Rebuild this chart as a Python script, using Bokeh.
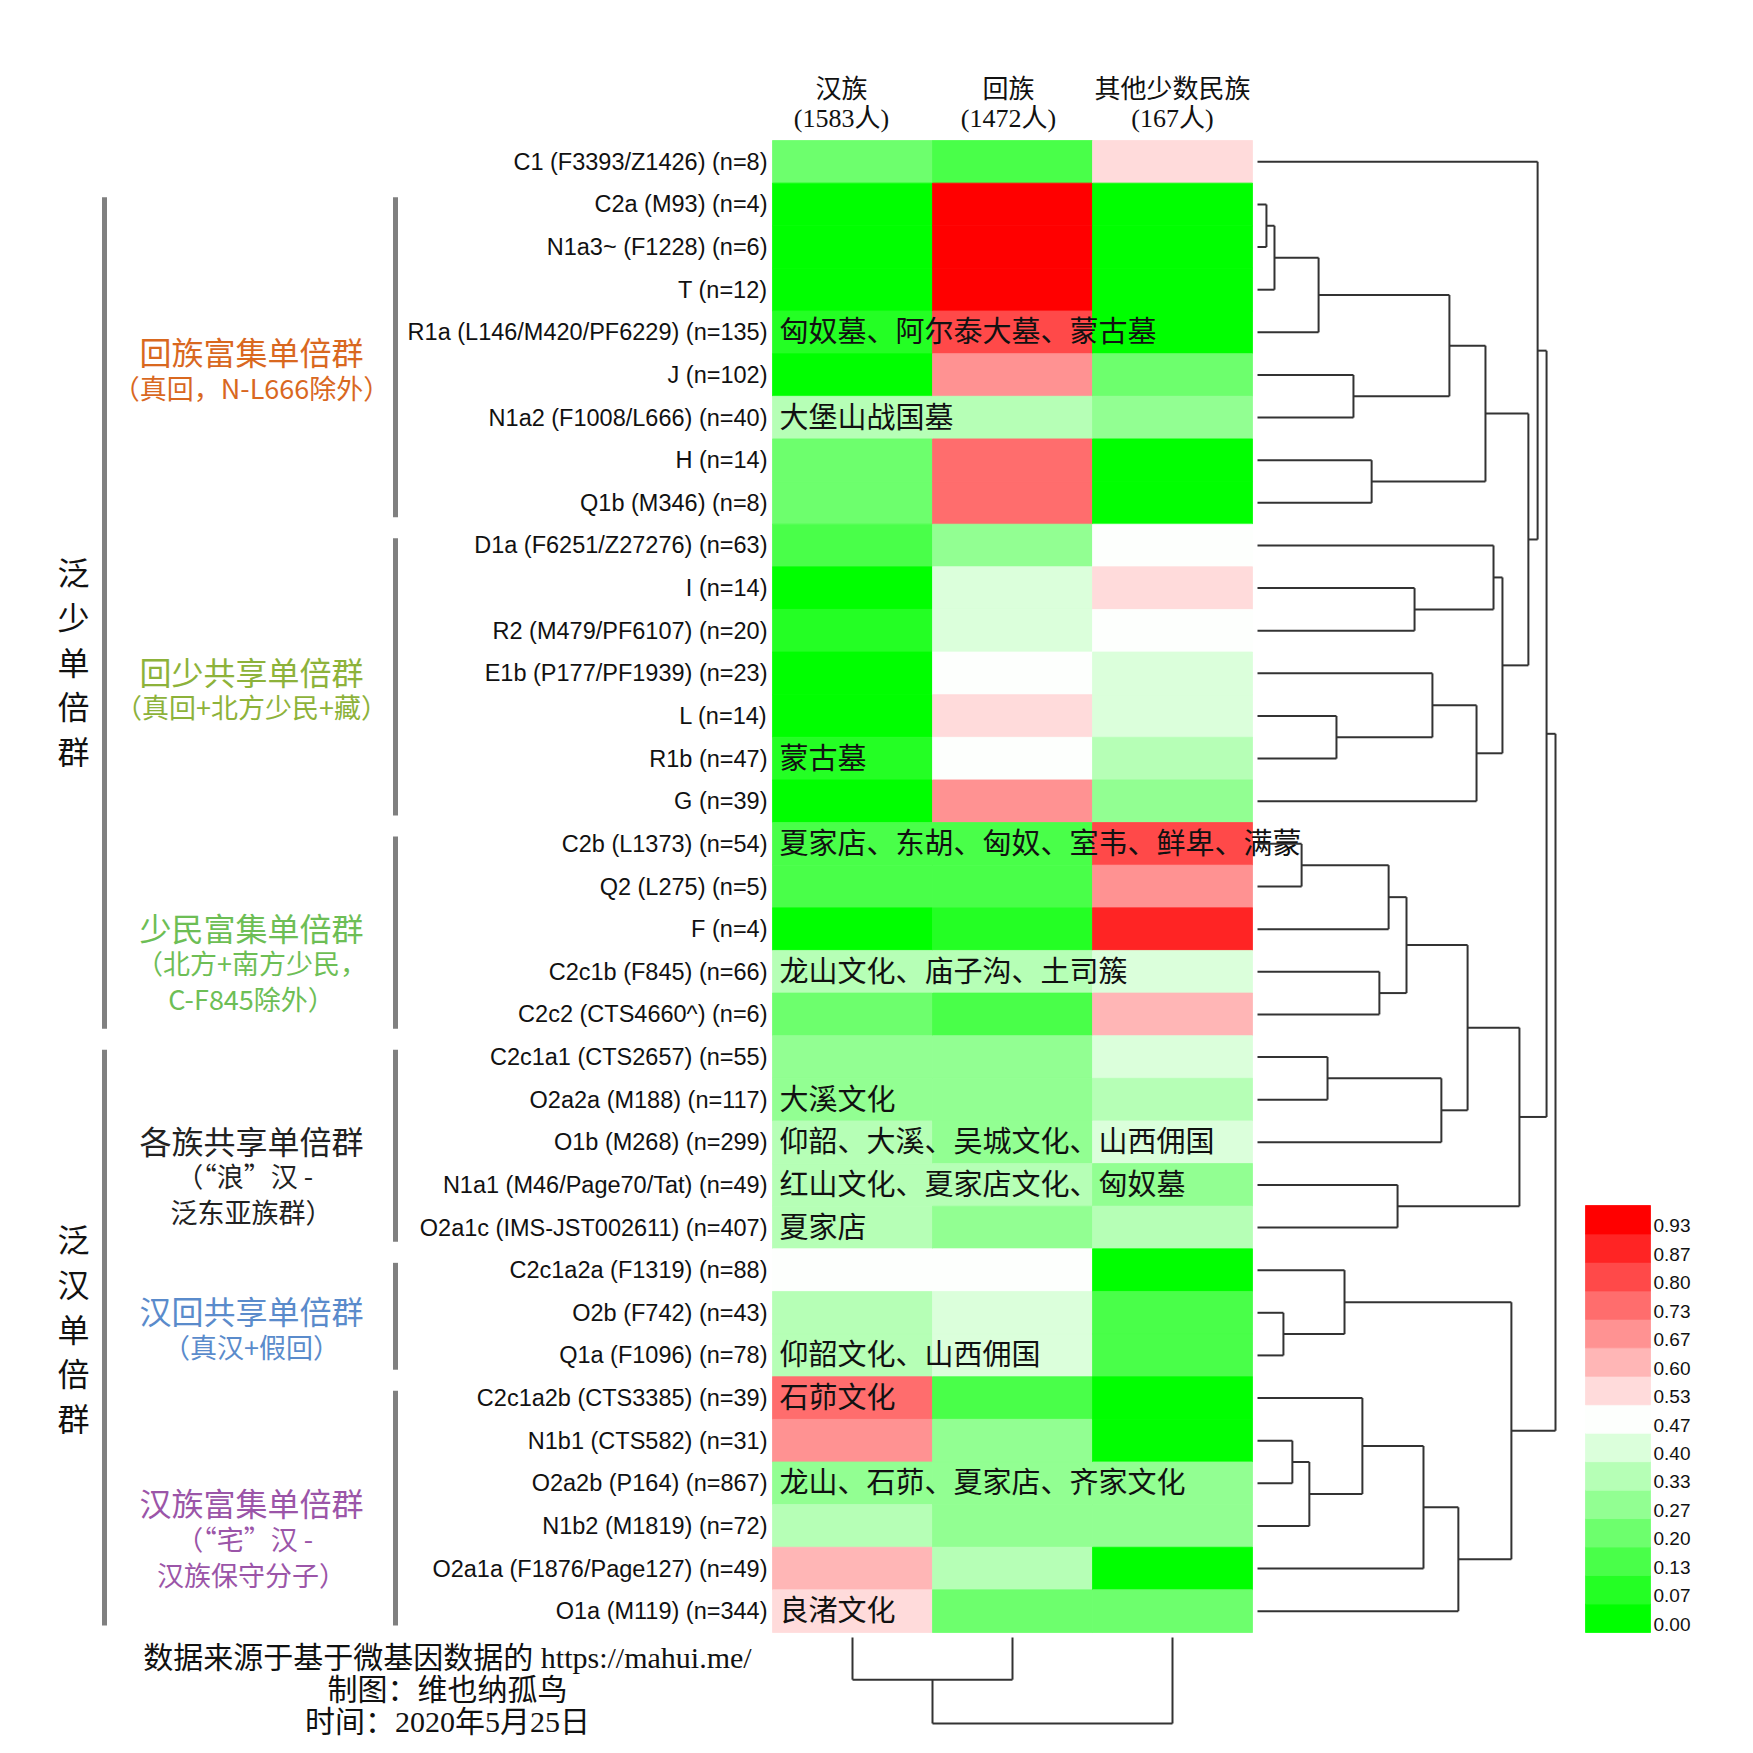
from bokeh.plotting import figure
from bokeh.models import ColumnDataSource, Range1d, LinearColorMapper
from bokeh.transform import transform
from bokeh.core.properties import value
from bokeh.embed import file_html
from bokeh.resources import INLINE

# ---------------- data ----------------
ethnic_groups = ["汉族", "回族", "其他少数民族"]
group_sizes = ["(1583人)", "(1472人)", "(167人)"]

haplogroups = [
    "C1 (F3393/Z1426) (n=8)", "C2a (M93) (n=4)", "N1a3~ (F1228) (n=6)", "T (n=12)",
    "R1a (L146/M420/PF6229) (n=135)", "J (n=102)", "N1a2 (F1008/L666) (n=40)",
    "H (n=14)", "Q1b (M346) (n=8)", "D1a (F6251/Z27276) (n=63)", "I (n=14)",
    "R2 (M479/PF6107) (n=20)", "E1b (P177/PF1939) (n=23)", "L (n=14)", "R1b (n=47)",
    "G (n=39)", "C2b (L1373) (n=54)", "Q2 (L275) (n=5)", "F (n=4)",
    "C2c1b (F845) (n=66)", "C2c2 (CTS4660^) (n=6)", "C2c1a1 (CTS2657) (n=55)",
    "O2a2a (M188) (n=117)", "O1b (M268) (n=299)", "N1a1 (M46/Page70/Tat) (n=49)",
    "O2a1c (IMS-JST002611) (n=407)", "C2c1a2a (F1319) (n=88)", "O2b (F742) (n=43)",
    "Q1a (F1096) (n=78)", "C2c1a2b (CTS3385) (n=39)", "N1b1 (CTS582) (n=31)",
    "O2a2b (P164) (n=867)", "N1b2 (M1819) (n=72)", "O2a1a (F1876/Page127) (n=49)",
    "O1a (M119) (n=344)",
]

han = [0.23, 0.02, 0.02, 0.03, 0.10, 0.03, 0.35, 0.23, 0.23, 0.17, 0.03, 0.10,
       0.03, 0.03, 0.10, 0.03, 0.17, 0.17, 0.02, 0.37, 0.23, 0.30, 0.33, 0.37,
       0.35, 0.37, 0.50, 0.37, 0.37, 0.77, 0.70, 0.30, 0.35, 0.63, 0.57]
hui = [0.17, 0.98, 0.98, 0.97, 0.83, 0.70, 0.35, 0.77, 0.77, 0.30, 0.43, 0.43,
       0.50, 0.57, 0.50, 0.70, 0.17, 0.17, 0.10, 0.37, 0.17, 0.30, 0.30, 0.30,
       0.37, 0.28, 0.50, 0.43, 0.43, 0.17, 0.30, 0.30, 0.30, 0.37, 0.23]
other = [0.57, 0.02, 0.02, 0.03, 0.03, 0.23, 0.30, 0.02, 0.02, 0.50, 0.57, 0.50,
         0.43, 0.43, 0.37, 0.30, 0.83, 0.70, 0.90, 0.43, 0.63, 0.43, 0.35, 0.43,
         0.30, 0.35, 0.03, 0.17, 0.17, 0.03, 0.03, 0.30, 0.30, 0.03, 0.23]

annot_rows = [4, 6, 14, 16, 19, 22, 23, 24, 25, 28, 29, 31, 34]
annot_texts = ["匈奴墓、阿尔泰大墓、蒙古墓", "大堡山战国墓", "蒙古墓",
               "夏家店、东胡、匈奴、室韦、鲜卑、满蒙", "龙山文化、庙子沟、土司簇",
               "大溪文化", "仰韶、大溪、吴城文化、山西佣国", "红山文化、夏家店文化、匈奴墓",
               "夏家店", "仰韶文化、山西佣国", "石茆文化", "龙山、石茆、夏家店、齐家文化",
               "良渚文化"]

# row dendrogram (linkage: child a, child b, height); ids >= 35 are merged clusters
link_a = [1, 35, 36, 5, 37, 7, 39, 10, 9, 13, 12, 45, 43, 41, 0, 16, 50, 19, 51,
          21, 54, 53, 24, 56, 49, 27, 26, 30, 62, 29, 64, 65, 61, 59]
link_b = [2, 3, 4, 6, 38, 8, 40, 11, 42, 14, 44, 15, 46, 47, 48, 17, 18, 20, 52,
          22, 23, 55, 25, 57, 58, 28, 60, 31, 32, 63, 33, 34, 66, 67]
link_h = [0.030, 0.057, 0.205, 0.322, 0.644, 0.383, 0.765, 0.527, 0.792, 0.265,
          0.587, 0.735, 0.822, 0.909, 0.940, 0.148, 0.440, 0.409, 0.500, 0.235,
          0.617, 0.705, 0.470, 0.879, 0.970, 0.087, 0.292, 0.117, 0.174, 0.352,
          0.557, 0.674, 0.852, 1.000]

# column dendrogram
col_link_a = [0, 3]
col_link_b = [1, 2]
col_link_h = [0.49, 1.00]

palette = ["#00FF00", "#24FF24", "#49FF49", "#6DFF6D", "#92FF92", "#B6FFB6",
           "#DBFFDB", "#FDFFFD", "#FFDBDB", "#FFB6B6", "#FF9292", "#FF6D6D",
           "#FF4949", "#FF2424", "#FF0000"]
cbar_labels = ["0.00", "0.07", "0.13", "0.20", "0.27", "0.33", "0.40", "0.47",
               "0.53", "0.60", "0.67", "0.73", "0.80", "0.87", "0.93"]

clusters = ["泛少单倍群", "泛汉单倍群"]
cluster_rows = [(1, 20), (21, 34)]
subgroups = [
    ["回族富集单倍群", "（真回，N-L666除外）"],
    ["回少共享单倍群", "（真回+北方少民+藏）"],
    ["少民富集单倍群", "（北方+南方少民，", "C-F845除外）"],
    ["各族共享单倍群", "（“浪”汉 -", "泛东亚族群）"],
    ["汉回共享单倍群", "（真汉+假回）"],
    ["汉族富集单倍群", "（“宅”汉 -", "汉族保守分子）"],
]
subgroup_rows = [(1, 8), (9, 15), (16, 20), (21, 25), (26, 28), (29, 34)]
subgroup_colors = ["#D9681F", "#8DB23A", "#6DBE55", "#222222", "#5A8BCB", "#9B55A8"]

footer = ["数据来源于基于微基因数据的 https://mahui.me/", "制图：维也纳孤鸟",
          "时间：2020年5月25日"]

# ---------------- layout ----------------
W = H = 1737
HX0, CW = 772.0, 160.0
HY0, HY1 = 140.0, 1632.0
n = len(haplogroups)
RH = (HY1 - HY0) / n
DX0, DSCALE = 1257.0, 298.0
CY0, CSCALE = 1637.0, 86.0
CJK = "Noto Sans CJK SC"
SERIF = "Liberation Serif, Noto Sans CJK SC"
HEADER_SHIFT = [-11, -4, 0]

p = figure(width=W, height=H, output_backend="svg", toolbar_location=None,
           x_range=Range1d(0, W), y_range=Range1d(H, 0),
           x_axis_location=None, y_axis_location=None, min_border=0)
p.outline_line_color = None
p.grid.grid_line_color = None
p.background_fill_color = "white"
p.border_fill_color = "white"


def rc(i):
    return HY0 + (i + 0.5) * RH


# heatmap
mapper = LinearColorMapper(palette=palette, low=0.0, high=1.0)
hx, hy, hv = [], [], []
for j, col in enumerate([han, hui, other]):
    for i, v in enumerate(col):
        hx.append(HX0 + (j + 0.5) * CW)
        hy.append(rc(i))
        hv.append(v)
src = ColumnDataSource(dict(x=hx, y=hy, v=hv))
p.rect(x="x", y="y", width=CW, height=RH, source=src,
       fill_color=transform("v", mapper), line_color=transform("v", mapper), line_width=0.8)

# column headers
hdr_x = [HX0 + (j + 0.5) * CW + HEADER_SHIFT[j] for j in range(3)]
p.text(x=hdr_x, y=[86] * 3, text=ethnic_groups,
       text_font=value(CJK), text_font_size="26px", text_align="center",
       text_baseline="middle", text_color="#111111")
p.text(x=hdr_x, y=[118] * 3, text=group_sizes,
       text_font=value(SERIF), text_font_size="26px", text_align="center",
       text_baseline="middle", text_color="#111111")

# row labels
p.text(x=[HX0 - 5] * n, y=[rc(i) for i in range(n)], text=haplogroups,
       text_font=value("Liberation Sans"), text_font_size="23.5px", text_align="right",
       text_baseline="middle", text_color="#111111")

# annotations inside heatmap
p.text(x=[HX0 + 7] * len(annot_rows), y=[rc(r) - 3 for r in annot_rows], text=annot_texts,
       text_font=value(CJK), text_font_size="29px", text_align="left",
       text_baseline="middle", text_color="#111111")

# row dendrogram
pos = {i: rc(i) for i in range(n)}
hgt = {i: 0.0 for i in range(n)}
xs, ys = [], []
for k, (a, b, h) in enumerate(zip(link_a, link_b, link_h)):
    for c in (a, b):
        xs.append([DX0 + hgt[c] * DSCALE, DX0 + h * DSCALE])
        ys.append([pos[c], pos[c]])
    xs.append([DX0 + h * DSCALE] * 2)
    ys.append([pos[a], pos[b]])
    pos[n + k] = (pos[a] + pos[b]) / 2
    hgt[n + k] = h
p.multi_line(xs=xs, ys=ys, line_color="#333333", line_width=2)

# column dendrogram
cpos = {j: HX0 + (j + 0.5) * CW for j in range(3)}
chgt = {j: 0.0 for j in range(3)}
cxs, cys = [], []
for k, (a, b, h) in enumerate(zip(col_link_a, col_link_b, col_link_h)):
    for c in (a, b):
        cxs.append([cpos[c], cpos[c]])
        cys.append([CY0 + chgt[c] * CSCALE, CY0 + h * CSCALE])
    cxs.append([cpos[a], cpos[b]])
    cys.append([CY0 + h * CSCALE] * 2)
    cpos[3 + k] = (cpos[a] + cpos[b]) / 2
    chgt[3 + k] = h
p.multi_line(xs=cxs, ys=cys, line_color="#333333", line_width=2)

# group bars and labels
BAR_IN_X, BAR_OUT_X = 395, 104
TOP_IN, BOT_IN = 14, 7
for (r0, r1), lines, colr in zip(subgroup_rows, subgroups, subgroup_colors):
    y0 = HY0 + r0 * RH + TOP_IN
    y1 = HY0 + (r1 + 1) * RH - BOT_IN
    p.line(x=[BAR_IN_X, BAR_IN_X], y=[y0, y1], line_color="#808080", line_width=5)
    yc = (y0 + y1) / 2 - 6
    p.text(x=[251], y=[yc], text=[lines[0]], text_font=value(CJK), text_font_size="32px",
           text_align="center", text_baseline="middle", text_color=colr)
    p.text(x=[251] * (len(lines) - 1), y=[yc + 36 * (m + 1) for m in range(len(lines) - 1)],
           text=lines[1:], text_font=value(CJK), text_font_size="27px",
           text_align="center", text_baseline="middle", text_color=colr)

cluster_centers = [660, 1327]
for (r0, r1), name, yc in zip(cluster_rows, clusters, cluster_centers):
    y0 = HY0 + r0 * RH + TOP_IN
    y1 = HY0 + (r1 + 1) * RH - BOT_IN
    p.line(x=[BAR_OUT_X, BAR_OUT_X], y=[y0, y1], line_color="#808080", line_width=5)
    chars = list(name)
    p.text(x=[73] * len(chars), y=[yc + (m - 2) * 44.7 for m in range(len(chars))],
           text=chars, text_font=value(CJK), text_font_size="32px", text_align="center",
           text_baseline="middle", text_color="#111111")

# colorbar
CBX0, CBX1 = 1585, 1650
BH = 427 / len(palette)
p.quad(left=[CBX0] * len(palette), right=[CBX1] * len(palette),
       top=[HY1 - (k + 1) * BH for k in range(len(palette))],
       bottom=[HY1 - k * BH for k in range(len(palette))],
       fill_color=palette, line_color=palette, line_width=0.8)
p.text(x=[CBX1 + 3] * len(cbar_labels), y=[HY1 - (k + 0.5) * BH + 6 for k in range(len(cbar_labels))],
       text=cbar_labels, text_font=value("Liberation Sans"), text_font_size="19px",
       text_align="left", text_baseline="middle", text_color="#111111")

# footer
p.text(x=[447] * 3, y=[1657, 1689, 1721], text=footer, text_font=value(SERIF),
       text_font_size="30px", text_align="center", text_baseline="middle",
       text_color="#111111")

open("out.html", "w").write(file_html(p, INLINE))
